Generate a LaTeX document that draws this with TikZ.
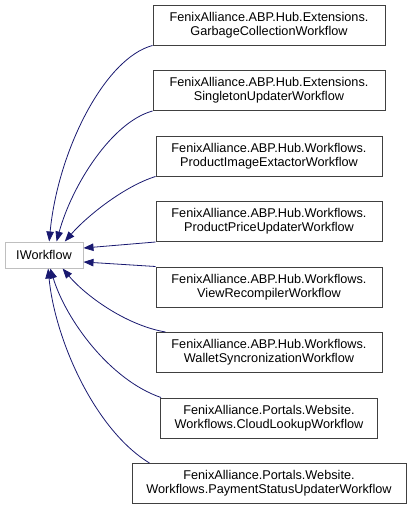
\documentclass[tikz,border=0pt]{standalone}
\usepackage{fontspec}
\setmainfont{Liberation Sans}
\usetikzlibrary{arrows.meta}
\definecolor{edgeblue}{HTML}{191970}
\definecolor{boxgray}{HTML}{404040}
\definecolor{lightgray}{HTML}{BFBFBF}
\tikzset{
  cls/.style={draw=boxgray, line width=1pt, fill=white, minimum height=40pt, inner sep=0pt,
    align=center, font=\fontsize{12.7}{14}\selectfont},
  base/.style={draw=lightgray, line width=1pt, fill=white, minimum width=78pt, minimum height=26pt,
    inner sep=0pt, font=\fontsize{12.7}{14}\selectfont},
  edge/.style={draw=edgeblue, line width=0.8pt, -{Triangle[length=10pt,width=7.5pt]}},
}
\begin{document}
\begin{tikzpicture}[x=1pt,y=-1pt]
\useasboundingbox (0,0) rectangle (412,509);
\node[base] (iw) at (44,255) {IWorkflow};
\node[cls, minimum width=232pt] (b1) at (269,25) {FenixAlliance.ABP.Hub.Extensions.\\GarbageCollectionWorkflow};
\node[cls, minimum width=232pt] (b2) at (269,90.5) {FenixAlliance.ABP.Hub.Extensions.\\SingletonUpdaterWorkflow};
\node[cls, minimum width=226pt] (b3) at (269,156) {FenixAlliance.ABP.Hub.Workflows.\\ProductImageExtactorWorkflow};
\node[cls, minimum width=226pt] (b4) at (269,221.5) {FenixAlliance.ABP.Hub.Workflows.\\ProductPriceUpdaterWorkflow};
\node[cls, minimum width=226pt] (b5) at (269,287) {FenixAlliance.ABP.Hub.Workflows.\\ViewRecompilerWorkflow};
\node[cls, minimum width=226pt] (b6) at (269,352.5) {FenixAlliance.ABP.Hub.Workflows.\\WalletSyncronizationWorkflow};
\node[cls, minimum width=217pt] (b7) at (269,418) {FenixAlliance.Portals.Website.\\Workflows.CloudLookupWorkflow};
\node[cls, minimum width=274pt] (b8) at (269,483.5) {FenixAlliance.Portals.Website.\\Workflows.PaymentStatusUpdaterWorkflow};
\draw[edge] (b1.south west) .. controls (105,58) and (58,150) .. (iw.69);
\draw[edge] (b2.south west) .. controls (112,122) and (72,185) .. (iw.47);
\draw[edge] (b3.south west) .. controls (125,186) and (88,215) .. (iw.33);
\draw[edge] (b4.south west) -- (iw.10);
\draw[edge] (b5.north west) -- (iw.-10);
\draw[edge] ([xshift=10pt]b6.north west) .. controls (125,325) and (85,295) .. (iw.-36);
\draw[edge] ([xshift=1pt]b7.north west) .. controls (110,380) and (66,320) .. (iw.-65);
\draw[edge] ([xshift=18pt]b8.north west) .. controls (95,430) and (55,340) .. (iw.-73);
\end{tikzpicture}
\end{document}
